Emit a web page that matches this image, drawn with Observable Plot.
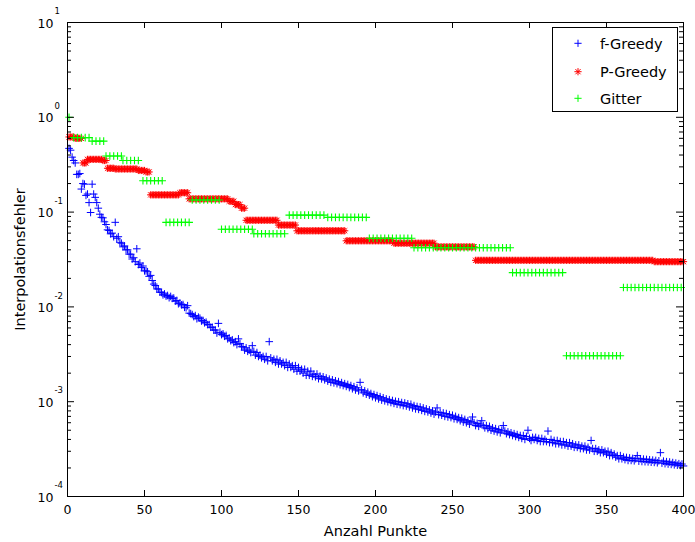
<!DOCTYPE html>
<html><head><meta charset="utf-8">
<script src="https://cdn.jsdelivr.net/npm/d3@7"></script>
<script src="https://cdn.jsdelivr.net/npm/@observablehq/plot@0.6"></script>
<style>
body{margin:0;background:#fff;}
#wrap{position:relative;width:695px;height:542px;}
#legend{position:absolute;left:552px;top:27px;}
</style></head><body><div id="wrap"></div>
<script>
// f-Greedy error, one value per point count n = 1..400
const fGreedy = [
0.47,0.45,0.38,0.35,0.33,0.25,0.25,0.255,0.175,0.2,
0.197,0.15,0.155,0.126,0.099,0.197,0.155,0.143,0.126,0.11,
0.095,0.088,0.087,0.079,0.074,0.065,0.064,0.059,0.06,0.055,
0.078,0.053,0.055,0.048,0.047,0.043,0.044,0.04,0.04,0.036,
0.036,0.032,0.033,0.03,0.041,0.028,0.029,0.026,0.027,0.024,
0.024,0.0235,0.021,0.0215,0.019,0.0174,0.0168,0.0155,0.0154,0.0143,
0.0142,0.0134,0.0137,0.013,0.0132,0.0125,0.0129,0.0123,0.0124,0.0115,
0.0117,0.0108,0.011,0.0105,0.0106,0.0099,0.0098,0.0103,0.0086,0.0085,
0.0083,0.0079,0.0081,0.0075,0.0078,0.0076,0.0071,0.0072,0.0068,0.0069,
0.0065,0.0065,0.0061,0.0061,0.0057,0.0057,0.0053,0.0067,0.0054,0.0051,
0.0052,0.0049,0.005,0.0046,0.0047,0.0044,0.0045,0.0042,0.0043,0.004,
0.0046,0.0041,0.0038,0.0038,0.0035,0.0037,0.0034,0.0035,0.0033,0.0039,
0.0034,0.0031,0.0033,0.003,0.0031,0.0029,0.003,0.0028,0.003,0.0027,
0.0043,0.0029,0.0027,0.0028,0.0026,0.0028,0.0025,0.0027,0.0025,0.0026,
0.0024,0.0026,0.0023,0.0025,0.0023,0.0024,0.0022,0.0024,0.0021,0.0023,
0.0021,0.0022,0.002,0.0022,0.0019,0.0021,0.0019,0.0021,0.00185,0.00195,
0.00183,0.00196,0.00175,0.00186,0.00174,0.00183,0.0017,0.00178,0.00165,0.00173,
0.0016,0.0017,0.00158,0.00166,0.00155,0.00163,0.00151,0.00159,0.00148,0.00155,
0.00145,0.00152,0.00141,0.00148,0.00137,0.00144,0.00133,0.0014,0.0013,0.0016,
0.00134,0.00124,0.0013,0.0012,0.00126,0.00117,0.00122,0.00113,0.00119,0.0011,
0.00116,0.00107,0.00113,0.00104,0.0011,0.00102,0.00107,0.001,0.00105,0.00098,
0.00103,0.00096,0.00101,0.00094,0.001,0.00093,0.00098,0.00091,0.00097,0.0009,
0.00095,0.00088,0.00094,0.00086,0.00091,0.00084,0.00089,0.00083,0.00088,0.00081,
0.00086,0.00079,0.00084,0.00078,0.00082,0.00076,0.0008,0.00074,0.00078,0.00086,
0.00073,0.00077,0.00072,0.00076,0.0007,0.00075,0.00069,0.00073,0.00068,0.00072,
0.00066,0.0007,0.00065,0.00068,0.00063,0.00067,0.00061,0.00065,0.0006,0.00063,
0.00058,0.00062,0.00069,0.0006,0.00056,0.00059,0.00055,0.00058,0.00063,0.00056,
0.00053,0.00056,0.00052,0.00055,0.0005,0.00053,0.00049,0.00052,0.00048,0.00051,
0.00047,0.0005,0.00056,0.00049,0.00046,0.00048,0.00045,0.00047,0.00044,0.00046,
0.00043,0.00045,0.00042,0.00044,0.00041,0.00044,0.0004,0.00043,0.0005,0.00041,
0.00039,0.00042,0.0004,0.00042,0.00039,0.00041,0.00038,0.00041,0.00038,0.0004,
0.00038,0.00049,0.00037,0.0004,0.00037,0.00039,0.00036,0.00039,0.00036,0.00038,
0.00035,0.00038,0.00035,0.00037,0.00034,0.00037,0.00034,0.00036,0.00033,0.00035,
0.00033,0.00035,0.00032,0.00034,0.00032,0.00034,0.00031,0.00033,0.00031,0.00039,
0.00032,0.0003,0.00032,0.0003,0.00031,0.00029,0.00031,0.00029,0.0003,0.00028,
0.0003,0.00027,0.00029,0.00027,0.00028,0.00026,0.00027,0.00025,0.00027,0.00025,
0.00026,0.000245,0.000258,0.00024,0.000255,0.00024,0.000252,0.000238,0.00025,0.00027,
0.000236,0.00025,0.000234,0.000248,0.000233,0.000246,0.000232,0.000244,0.00023,0.000242,
0.000229,0.00024,0.000227,0.000238,0.00029,0.000225,0.000236,0.000222,0.000233,0.00022,
0.000231,0.000218,0.000228,0.000216,0.000225,0.000214,0.000222,0.000212,0.00022,0.00021
];
// P-Greedy error as runs: [first n, last n, value]
const pGreedyRuns = [
[1,4,0.62],[5,9,0.6],[10,12,0.33],[13,22,0.36],[23,25,0.35],
[26,30,0.29],[31,45,0.285],[46,50,0.275],[51,53,0.265],
[54,72,0.152],[73,78,0.16],[79,104,0.138],[105,108,0.13],[109,112,0.12],[113,115,0.11],
[116,136,0.082],[137,148,0.073],[149,180,0.0635],[181,211,0.0498],[212,238,0.047],
[239,264,0.043],[265,380,0.031],[381,400,0.030]
];
// Gitter error as runs: [first n, last n, value]
const gitterRuns = [
[1,1,1.0],[4,15,0.61],[16,24,0.56],[25,35,0.39],[36,48,0.35],[49,63,0.214],
[64,80,0.078],[81,99,0.134],[100,120,0.066],[121,143,0.059],[144,168,0.093],
[169,195,0.088],[196,224,0.053],[225,288,0.042],[289,323,0.023],[324,360,0.00305],[361,400,0.016]
];
const xTicks = [0,50,100,150,200,250,300,350,400];
const yExponents = [-4,-3,-2,-1,0,1];
const seriesNames = ["f-Greedy","P-Greedy","Gitter"];
const seriesColors = ["#0000ff","#ff0000","#00ff00"];
const xLabel = "Anzahl Punkte";
const yLabel = "Interpolationsfehler";

const blue = fGreedy.map((v,i)=>({n:i+1,e:v}));
const red = pGreedyRuns.flatMap(([a,b,v])=>d3.range(a,b+1).map(n=>({n,e:v})));
const green = gitterRuns.flatMap(([a,b,v])=>d3.range(a,b+0.01,2.5).map(n=>({n,e:v})));

const plusSym = {draw(ctx,size){const r=Math.sqrt(size/Math.PI);ctx.moveTo(-r,0);ctx.lineTo(r,0);ctx.moveTo(0,-r);ctx.lineTo(0,r);}};
const starSym = {draw(ctx,size){const r=Math.sqrt(size/Math.PI),q=r*0.72;ctx.moveTo(-r,0);ctx.lineTo(r,0);ctx.moveTo(0,-r);ctx.lineTo(0,r);ctx.moveTo(-q,-q);ctx.lineTo(q,q);ctx.moveTo(-q,q);ctx.lineTo(q,-q);}};
const symbols = [plusSym, starSym, plusSym];

const W=695,H=542,ML=67,MR=12,MT=22,MB=46;
const FW=W-ML-MR, FH=H-MT-MB;
const majorY = yExponents.map(e=>10**e);
const minorY = yExponents.slice(0,-1).flatMap(e=>d3.range(2,10).map(m=>m*10**e));
const font = "DejaVu Sans";

const chart = Plot.plot({
  width:W,height:H,marginLeft:ML,marginRight:MR,marginTop:MT,marginBottom:MB,
  x:{domain:[0,400],axis:null},
  y:{type:"log",domain:[1e-4,10],axis:null},
  style:{fontFamily:font,background:"white",color:"black"},
  marks:[
    Plot.dot(blue,{x:"n",y:"e",symbol:symbols[0],r:3.8,stroke:seriesColors[0],fill:"none",strokeWidth:1}),
    Plot.dot(red,{x:"n",y:"e",symbol:symbols[1],r:3.6,stroke:seriesColors[1],fill:"none",strokeWidth:1}),
    Plot.dot(green,{x:"n",y:"e",symbol:symbols[2],r:3.8,stroke:seriesColors[2],fill:"none",strokeWidth:1.1}),
    Plot.frame({stroke:"black",strokeWidth:1}),
    Plot.ruleY(majorY,{y:d=>d,insetRight:FW-7,stroke:"black"}),
    Plot.ruleY(majorY,{y:d=>d,insetLeft:FW-7,stroke:"black"}),
    Plot.ruleY(minorY,{y:d=>d,insetRight:FW-4,stroke:"black"}),
    Plot.ruleY(minorY,{y:d=>d,insetLeft:FW-4,stroke:"black"}),
    Plot.ruleX(xTicks,{x:d=>d,insetTop:FH-6,stroke:"black"}),
    Plot.ruleX(xTicks,{x:d=>d,insetBottom:FH-6,stroke:"black"}),
    Plot.text(xTicks,{x:d=>d,frameAnchor:"bottom",dy:13.5,text:d=>String(d),fontSize:12.5,lineAnchor:"middle",fill:"black"}),
    Plot.text(majorY,{y:d=>d,frameAnchor:"left",dx:-14,dy:1,text:()=>"10",textAnchor:"end",lineAnchor:"middle",fontSize:12.5,fill:"black"}),
    Plot.text(yExponents,{y:d=>10**d,frameAnchor:"left",dx:-13,dy:-11,text:d=>String(d),textAnchor:"start",lineAnchor:"middle",fontSize:8.5,fill:"black"}),
    Plot.text([xLabel],{frameAnchor:"bottom",dy:35,text:d=>d,fontSize:14.5,textAnchor:"middle",lineAnchor:"middle",fill:"black"}),
    Plot.text([yLabel],{frameAnchor:"left",dx:-47,rotate:-90,text:d=>d,fontSize:14.5,textAnchor:"middle",lineAnchor:"middle",fill:"black"})
  ]
});
const wrap = document.getElementById("wrap");
wrap.appendChild(chart);

// legend box
const lg = d3.select(wrap).append("svg").attr("id","legend").attr("width",126).attr("height",85);
lg.append("rect").attr("x",0.5).attr("y",0.5).attr("width",125).attr("height",84).attr("fill","white").attr("stroke","black");
const rowY=[16.3,44.7,71.3];
seriesNames.forEach((name,i)=>{
  lg.append("path").attr("transform",`translate(26,${rowY[i]})`)
    .attr("d",d3.symbol().type(symbols[i]).size(Math.PI*3.6*3.6)())
    .attr("fill","none").attr("stroke",seriesColors[i]);
  lg.append("text").attr("x",48).attr("y",rowY[i]+5.3).attr("font-family",font).attr("font-size",14.5).text(name);
});
</script></body></html>
